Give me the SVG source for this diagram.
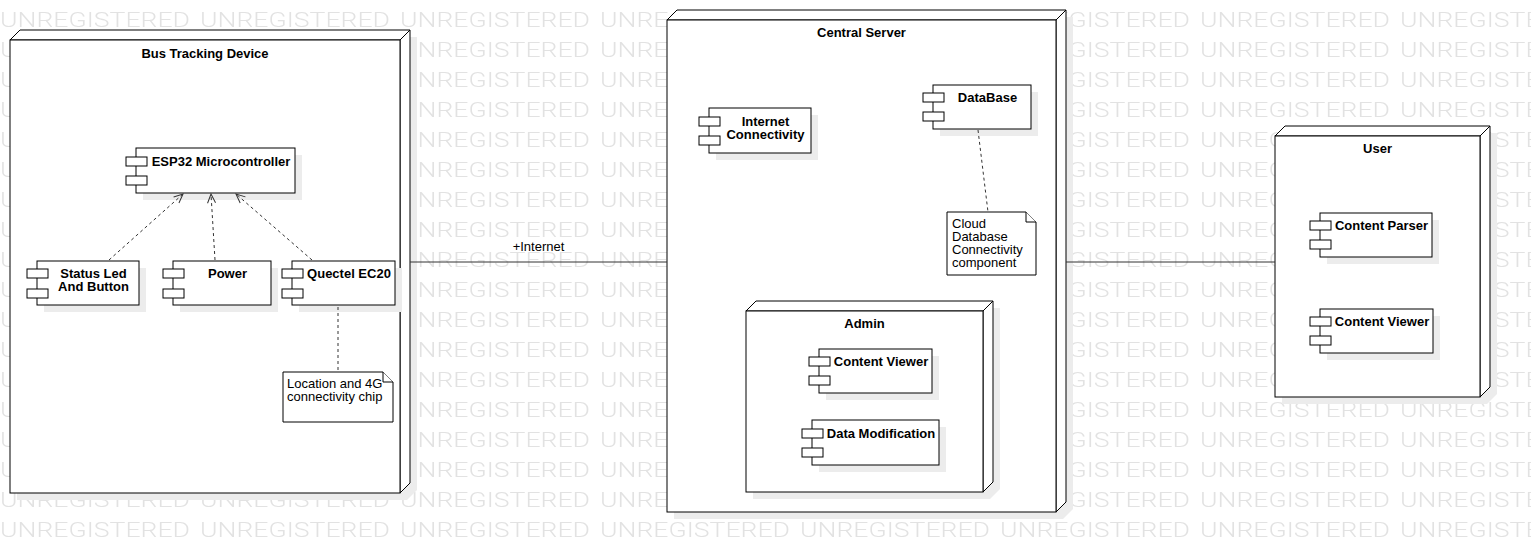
<svg xmlns="http://www.w3.org/2000/svg" width="1531" height="554" viewBox="0 0 1531 554">
<style>
.wm{font-family:Roboto,"Liberation Sans",sans-serif;font-weight:300;font-size:20px;fill:#e2e2e2}
.shape{fill:#fff;stroke:#000;stroke-width:1}
.shadow{fill:#ececec;stroke:none}
.lbl{font-family:"Liberation Sans",Arial,sans-serif;font-weight:bold;font-size:13px;fill:#000;text-anchor:middle}
.txt{font-family:"Liberation Sans",Arial,sans-serif;font-size:13px;fill:#000}
.dash{fill:none;stroke:#333;stroke-width:1;stroke-dasharray:3 3}
.solid{fill:none;stroke:#333;stroke-width:1}
</style>
<defs>
<pattern id="wmp" patternUnits="userSpaceOnUse" x="0" y="-3" width="200" height="30">
<text class="wm" x="0" y="30" textLength="190" lengthAdjust="spacingAndGlyphs">UNREGISTERED</text>
</pattern>
<marker id="open" markerUnits="userSpaceOnUse" markerWidth="12" markerHeight="12" refX="10" refY="5" orient="auto">
<path d="M1,1 L10,5 L1,9" fill="none" stroke="#333" stroke-width="1"/>
</marker>
</defs>
<rect x="0" y="0" width="1531" height="554" fill="#fff"/>
<rect x="0" y="0" width="1531" height="540" fill="url(#wmp)"/>

<g id="node-bus">
<path class="shadow" d="M17,47 L27,37 L417,37 L417,490 L407,500 L17,500 Z"/>
<path class="shape" d="M10,40 L20,30 L410,30 L400,40 Z"/>
<path class="shape" d="M400,40 L410,30 L410,483 L400,493 Z"/>
<rect class="shape" x="10" y="40" width="390" height="453"/>
<text class="lbl" x="205" y="58">Bus Tracking Device</text>
</g>

<g id="node-central">
<path class="shadow" d="M674,27 L684,17 L1073,17 L1073,509 L1063,519 L674,519 Z"/>
<path class="shape" d="M667,20 L677,10 L1066,10 L1056,20 Z"/>
<path class="shape" d="M1056,20 L1066,10 L1066,502 L1056,512 Z"/>
<rect class="shape" x="667" y="20" width="389" height="492"/>
<text class="lbl" x="861.5" y="37">Central Server</text>
</g>

<g id="node-admin">
<path class="shadow" d="M753,318 L763,308 L1000,308 L1000,489 L990,499 L753,499 Z"/>
<path class="shape" d="M746,311 L756,301 L993,301 L983,311 Z"/>
<path class="shape" d="M983,311 L993,301 L993,482 L983,492 Z"/>
<rect class="shape" x="746" y="311" width="237" height="181"/>
<text class="lbl" x="864.5" y="328">Admin</text>
</g>

<g id="node-user">
<path class="shadow" d="M1282,143 L1292,133 L1497,133 L1497,394 L1487,404 L1282,404 Z"/>
<path class="shape" d="M1275,136 L1285,126 L1490,126 L1480,136 Z"/>
<path class="shape" d="M1480,136 L1490,126 L1490,387 L1480,397 Z"/>
<rect class="shape" x="1275" y="136" width="205" height="261"/>
<text class="lbl" x="1377.5" y="153">User</text>
</g>

<g id="comp-esp32">
<rect class="shadow" x="143" y="155" width="159" height="45"/>
<rect class="shape" x="136" y="148" width="159" height="45"/>
<rect class="shape" x="126" y="157" width="21" height="9"/>
<rect class="shape" x="126" y="176" width="21" height="9"/>
<text class="lbl" x="221" y="166">ESP32 Microcontroller</text>
</g>

<g id="comp-status">
<rect class="shadow" x="44" y="268" width="102" height="44"/>
<rect class="shape" x="37" y="261" width="102" height="44"/>
<rect class="shape" x="27" y="269" width="21" height="9"/>
<rect class="shape" x="27" y="289" width="21" height="9"/>
<text class="lbl" x="93.5" y="278">Status Led</text>
<text class="lbl" x="93.5" y="291">And Button</text>
</g>

<g id="comp-power">
<rect class="shadow" x="180" y="268" width="98" height="44"/>
<rect class="shape" x="173" y="261" width="98" height="44"/>
<rect class="shape" x="163" y="269" width="21" height="9"/>
<rect class="shape" x="163" y="289" width="21" height="9"/>
<text class="lbl" x="227.5" y="278">Power</text>
</g>

<g id="comp-quectel">
<rect class="shadow" x="299" y="268" width="103" height="44"/>
<rect class="shape" x="292" y="261" width="103" height="44"/>
<rect class="shape" x="282" y="269" width="21" height="9"/>
<rect class="shape" x="282" y="289" width="21" height="9"/>
<text class="lbl" x="349" y="278">Quectel EC20</text>
</g>

<g id="note-location">
<path class="shape" d="M283,372 H383 L393,382 V422 H283 Z"/>
<path class="shape" d="M383,372 V382 H393" fill="none"/>
<text class="txt" x="287" y="388">Location and 4G</text>
<text class="txt" x="287" y="401">connectivity chip</text>
</g>

<g id="comp-internet">
<rect class="shadow" x="716" y="115" width="102" height="45"/>
<rect class="shape" x="709" y="108" width="102" height="45"/>
<rect class="shape" x="699" y="117" width="21" height="9"/>
<rect class="shape" x="699" y="136" width="21" height="9"/>
<text class="lbl" x="765.5" y="126">Internet</text>
<text class="lbl" x="765.5" y="139">Connectivity</text>
</g>

<g id="comp-database">
<rect class="shadow" x="940" y="92" width="98" height="44"/>
<rect class="shape" x="933" y="85" width="98" height="44"/>
<rect class="shape" x="923" y="93" width="21" height="9"/>
<rect class="shape" x="923" y="112" width="21" height="9"/>
<text class="lbl" x="987.5" y="102">DataBase</text>
</g>

<g id="note-cloud">
<path class="shape" d="M947,212 H1026 L1036,222 V275 H947 Z"/>
<path class="shape" d="M1026,212 V222 H1036" fill="none"/>
<text class="txt" x="952" y="228">Cloud</text>
<text class="txt" x="952" y="241">Database</text>
<text class="txt" x="952" y="254">Connectivity</text>
<text class="txt" x="952" y="267">component</text>
</g>

<g id="comp-admin-viewer">
<rect class="shadow" x="826" y="356" width="113" height="44"/>
<rect class="shape" x="819" y="349" width="113" height="44"/>
<rect class="shape" x="809" y="357" width="21" height="9"/>
<rect class="shape" x="809" y="376" width="21" height="9"/>
<text class="lbl" x="881" y="366">Content Viewer</text>
</g>

<g id="comp-data-mod">
<rect class="shadow" x="819" y="427" width="127" height="45"/>
<rect class="shape" x="812" y="420" width="127" height="45"/>
<rect class="shape" x="802" y="429" width="21" height="9"/>
<rect class="shape" x="802" y="448" width="21" height="9"/>
<text class="lbl" x="881" y="438">Data Modification</text>
</g>

<g id="comp-parser">
<rect class="shadow" x="1327" y="220" width="112" height="44"/>
<rect class="shape" x="1320" y="213" width="112" height="44"/>
<rect class="shape" x="1310" y="221" width="21" height="9"/>
<rect class="shape" x="1310" y="240" width="21" height="9"/>
<text class="lbl" x="1381.5" y="230">Content Parser</text>
</g>

<g id="comp-user-viewer">
<rect class="shadow" x="1327" y="316" width="113" height="44"/>
<rect class="shape" x="1320" y="309" width="113" height="44"/>
<rect class="shape" x="1310" y="317" width="21" height="9"/>
<rect class="shape" x="1310" y="336" width="21" height="9"/>
<text class="lbl" x="1382" y="326">Content Viewer</text>
</g>

<g id="connectors">
<path class="dash" d="M109,260 L183,194" marker-end="url(#open)"/>
<path class="dash" d="M215,260 L211,194" marker-end="url(#open)"/>
<path class="dash" d="M312,260 L236,194" marker-end="url(#open)"/>
<path class="dash" d="M338,307 L338,372"/>
<path class="dash" d="M978,130 L988,212"/>
<path class="solid" d="M410,262 L667,262"/>
<text class="txt" x="538.5" y="251" text-anchor="middle">+Internet</text>
<path class="solid" d="M1066,262 L1275,262"/>
</g>
</svg>
